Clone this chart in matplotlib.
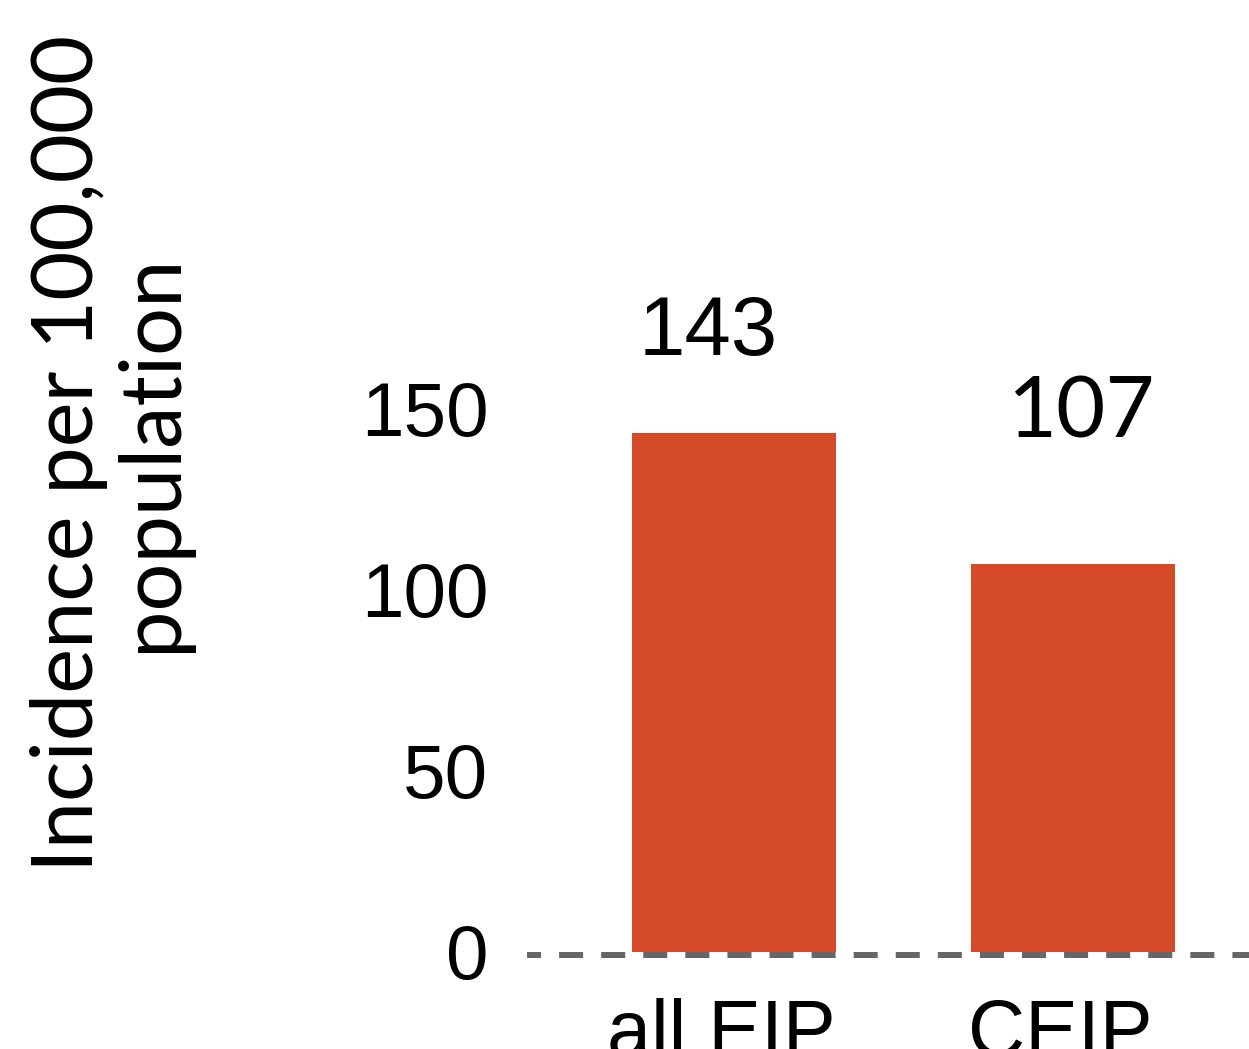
import matplotlib
matplotlib.use("Agg")
import matplotlib.pyplot as plt
import matplotlib.transforms as mtransforms

# data
groups = ["all EIP", "CEIP"]
incidence = [143, 107]
yticks = [0, 50, 100, 150]
value_labels = ["143", "107"]

# label placement tweaks (data units), as in the original layout
label_dx = [-0.077, 0.024]
label_dy = [21.6, 34.8]
label_fonts = ["Liberation Sans", "Lato"]
label_sizes = [60, 61]

bar_color = "#D54A27"

plt.rcParams["font.family"] = "Liberation Sans"
plt.rcParams["lines.scale_dashes"] = False

fig = plt.figure(figsize=(12.49, 10.49), dpi=100)
ax = fig.add_axes([0.4221, 0.0925, 0.5781, 0.6568])

x = list(range(len(groups)))
ax.bar(x, incidence, width=0.6, color=bar_color, zorder=2)

# dashed baseline, drawn just under the bars
off = mtransforms.offset_copy(ax.transData, fig=fig, x=0, y=-3, units="dots")
base = ax.axhline(0, color="#666666", lw=4.32, zorder=1, clip_on=False)
base.set_transform(mtransforms.blended_transform_factory(ax.transAxes, off))
base.set_linestyle((7.2, (17.3, 13.0)))

for i, v in enumerate(incidence):
    ax.text(x[i] + label_dx[i], v + label_dy[i], value_labels[i],
            ha="center", va="baseline", fontsize=label_sizes[i],
            family=label_fonts[i], color="black", clip_on=False)

ax.set_xlim(-0.61, 1.52)
ax.set_ylim(0, 190)
ax.set_yticks(yticks)
ax.set_yticklabels([str(t) for t in yticks], fontsize=55)
ax.set_xticks(x)
ax.set_xticklabels(groups, fontsize=57)
ax.tick_params(axis="y", length=0, pad=28)
ax.tick_params(axis="x", length=0, pad=33)
shift = mtransforms.ScaledTranslation(-0.13, 0, fig.dpi_scale_trans)
for lbl in ax.get_xticklabels():
    lbl.set_transform(lbl.get_transform() + shift)
for s in ax.spines.values():
    s.set_visible(False)

fig.text(0.0885, 0.568, "Incidence per 100,000\npopulation", rotation=90,
         ha="center", va="center", multialignment="center",
         fontsize=61, family="Lato", linespacing=1.07)

fig.savefig("out.png", dpi=100)
